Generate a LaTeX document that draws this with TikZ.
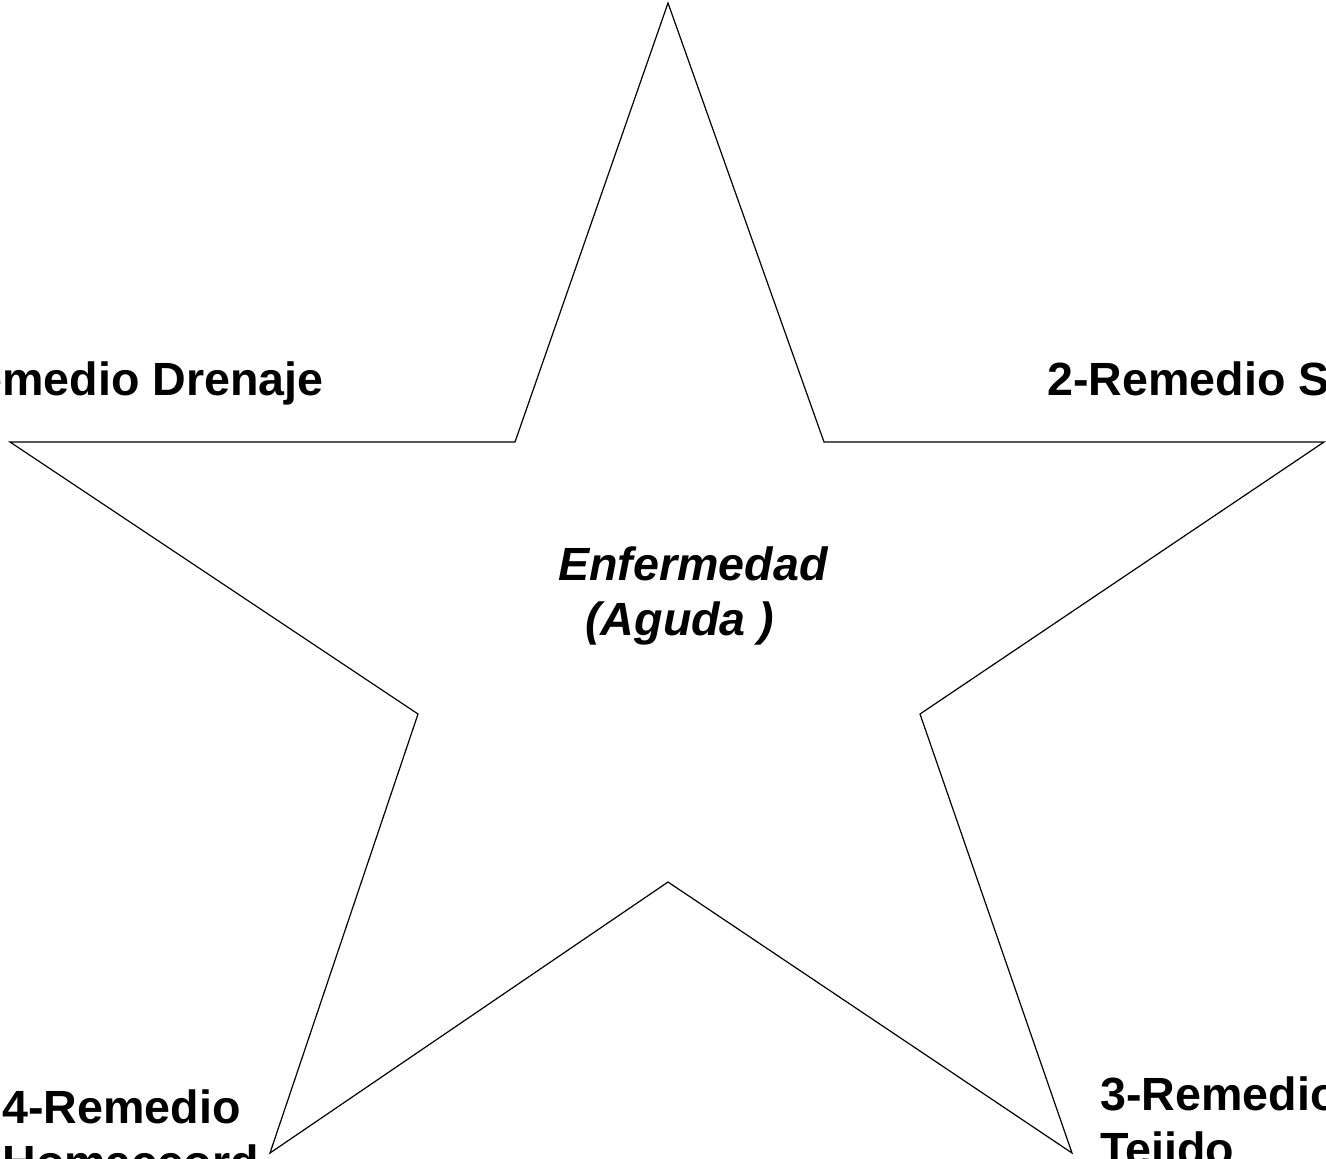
\documentclass[tikz,border=0pt]{standalone}
\usepackage{fontspec}
\setmainfont{Liberation Sans}

\begin{document}
\begin{tikzpicture}[x=0.5pt,y=-0.5pt,
	remedio/.style={anchor=base west,inner sep=0pt,align=left,font=\bfseries\fontsize{23.3}{27.5}\selectfont},
	enfermedad/.style={remedio,font=\bfseries\itshape\fontsize{23.3}{27.5}\selectfont}]
	\useasboundingbox (0,0) rectangle (1326,1158);
	\clip (0,0) rectangle (1326,1158);

	\draw[line width=0.6pt] (668,3) -- (824,442) -- (1324,442) -- (920,714) -- (1072,1153)
		-- (668,882) -- (270,1153) -- (418,714) -- (10,442) -- (515,442) -- cycle;

	% multi-line nodes sit on the baseline of their last line
	\node[enfermedad] (E) at (558,635) {Enfermedad\\\hspace*{13.5pt}(Aguda )};
	\node[remedio] (R1) at (-99,395) {1-Remedio Drenaje};
	\node[remedio] (R2) at (1047,395) {2-Remedio S};
	\node[remedio] (R3) at (1100,1165) {3-Remedio\\Tejido};
	\node[remedio] (R4) at (2,1178) {4-Remedio\\Homaccord};
\end{tikzpicture}
\end{document}
